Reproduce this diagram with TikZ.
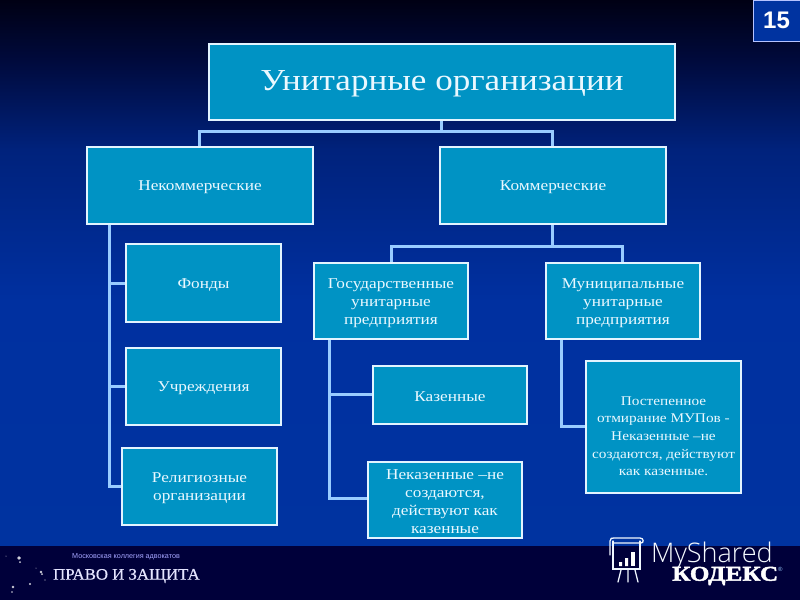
\documentclass[tikz,border=0pt]{standalone}
\usepackage{fontspec}
\setmainfont[FakeStretch=1.15]{Liberation Serif}
\newfontfamily\arialfont{Liberation Sans}
\newfontfamily\latofont{Open Sans Light}
\newfontfamily\kodfont[FakeBold=2.2,FakeStretch=1.2]{Liberation Serif}
\newfontfamily\pravofont[FakeBold=.6,FakeStretch=1.05]{Liberation Serif}
\usetikzlibrary{calc}
\definecolor{boxfill}{HTML}{0093C4}
\definecolor{boxline}{HTML}{E2F4FF}
\definecolor{link}{HTML}{99CCFF}
\definecolor{bga}{HTML}{000014}
\definecolor{bgb}{HTML}{000A3C}
\definecolor{bgc}{HTML}{00227C}
\definecolor{bgd}{HTML}{0030A0}
\definecolor{bgbot}{HTML}{0033A0}
\definecolor{foot}{HTML}{00003A}
\definecolor{txt}{HTML}{EAF8FF}
\pgfdeclareverticalshading{bgsh}{100bp}{color(0bp)=(bgbot); color(25bp)=(bgbot); color(47.5bp)=(bgd); color(61.3bp)=(bgc); color(69.5bp)=(bgb); color(75bp)=(bga); color(100bp)=(bga)}
\tikzset{
  x=1pt,y=-1pt,
  orgbox/.style={draw=boxline,line width=2.6pt,fill=boxfill,text=txt,align=center,inner sep=0pt,outer sep=0pt,anchor=north west,font=\fontsize{15}{18}\selectfont},
  smallbox/.style={font=\fontsize{13.3}{17.7}\selectfont},
  titlebox/.style={font=\fontsize{30.5}{36}\selectfont},
  wire/.style={draw=link,line width=3pt},
  foottext/.style={text=#1,inner sep=0pt,anchor=west},
  starpt/.style={fill=white,opacity=.8,draw=none}
}
\newcommand{\obox}[7][]{\node[orgbox,#1,minimum width=#5pt-#3pt,minimum height=#6pt-#4pt] (#2) at (#3,#4) {\rule{0pt}{14pt}#7};}
\begin{document}
\begin{tikzpicture}
\useasboundingbox (0,0) rectangle (800,600);
\shade[shading=bgsh] (0,0) rectangle (800,546);
\fill[foot] (0,546) rectangle (800,600);
% connector coordinates
\coordinate (busA) at (441,131);
\coordinate (busB) at (552,246);
\coordinate (trunkA) at (109,224);
\coordinate (trunkB) at (329,339);
\coordinate (trunkC) at (561,339);
\coordinate (n1top) at (199,147);
\coordinate (n2top) at (552,147);
\coordinate (g1top) at (391,263);
\coordinate (g2top) at (622,263);
\coordinate (rootbot) at (441,120);
\coordinate (n2bot) at (552,224);
\coordinate (fTip) at (126,283);
\coordinate (uTip) at (126,386);
\coordinate (rTip) at (122,486);
\coordinate (kTip) at (373,394);
\coordinate (nTip) at (368,498);
\coordinate (pTip) at (586,426);
\draw[wire] (rootbot) -- (busA);
\draw[wire] (n1top) |- (n2top |- busA) -- (n2top);
\draw[wire] (n2bot) -- (busB);
\draw[wire] (g1top) |- (g2top |- busB) -- (g2top);
\draw[wire] (trunkA) |- (rTip);
\draw[wire] (trunkA |- fTip) -- (fTip);
\draw[wire] (trunkA |- uTip) -- (uTip);
\draw[wire] (trunkB) |- (nTip);
\draw[wire] (trunkB |- kTip) -- (kTip);
\draw[wire] (trunkC) |- (pTip);
% boxes
\obox[titlebox]{root}{209}{44}{675}{120}{\rule{0pt}{24pt}Унитарные организации}
\obox{nc}{87}{147}{313}{224}{Некоммерческие}
\obox{com}{440}{147}{666}{224}{Коммерческие}
\obox{fond}{126}{244}{281}{322}{Фонды}
\obox{uch}{126}{348}{281}{425}{Учреждения}
\obox{rel}{122}{448}{277}{525}{Религиозные\\организации}
\obox{gos}{314}{263}{468}{339}{Государственные\\унитарные\\предприятия}
\obox{mun}{546}{263}{700}{339}{Муниципальные\\унитарные\\предприятия}
\obox{kaz}{373}{366}{527}{424}{Казенные}
\obox{nekaz}{368}{462}{522}{538}{Неказенные –не\\создаются,\\действуют как\\казенные}
\obox[smallbox]{post}{586}{361}{741}{493}{\rule{0pt}{27pt}Постепенное\\отмирание МУПов -\\Неказенные –не\\создаются, действуют\\как казенные.}
% page number
\node[draw=boxline!80!blue,line width=1pt,fill=bgbot,text=white,font=\arialfont\bfseries\fontsize{24}{24}\selectfont,minimum width=47pt,minimum height=41pt,inner sep=0pt,outer sep=0pt,anchor=north west] (pg) at (753,0) {15};
% footer left
\foreach \sx/\sy/\sr in {20/562/1,20/558/.6,42/574/1,30/584/1.1,13/587/1.3,12/592/.8,6/556/.5,45/580/.6,36/568/.5}{\fill[starpt] (\sx,\sy) circle (\sr pt);}
\fill[starpt] (41,572) circle (1.3pt);
\fill[starpt] (19,558) circle (1.8pt);
\node[foottext=white!65!blue,font=\arialfont\fontsize{7.2}{8}\selectfont] (lawco) at (72,557) {Московская коллегия адвокатов};
\node[foottext=white!90!blue,font=\pravofont\fontsize{16}{18}\selectfont] (pravo) at (53,576) {ПРАВО И ЗАЩИТА};
% MyShared logo
\begin{scope}[draw=white!85!link,line width=1.3pt,line cap=round]
\draw (613,541) -- (613,569) -- (640,569) -- (640,541);
\draw (610,555) -- (610,541) .. controls (610,538) and (612,538) .. (614,538) -- (640,538) .. controls (644,538) and (644,543) .. (641,543) -- (613,543);
\draw (621,570) -- (618,582) (628,570) -- (628,582) (635,570) -- (638,582);
\fill[white] (619,562) rectangle (622,566) (625,558) rectangle (628,566);
\fill[white] (631,552) rectangle (635,566);
\end{scope}
\node[foottext=white!90!link,font=\latofont\fontsize{27}{28}\selectfont] (mys) at (651,555) {MyShared};
\node[foottext=white,font=\kodfont\bfseries\fontsize{21}{22}\selectfont] (kod) at (672,576) {КОДЕКС};
\node[foottext=link,font=\arialfont\fontsize{6}{6}\selectfont] (reg) at (778,569) {®};
\end{tikzpicture}
\end{document}
